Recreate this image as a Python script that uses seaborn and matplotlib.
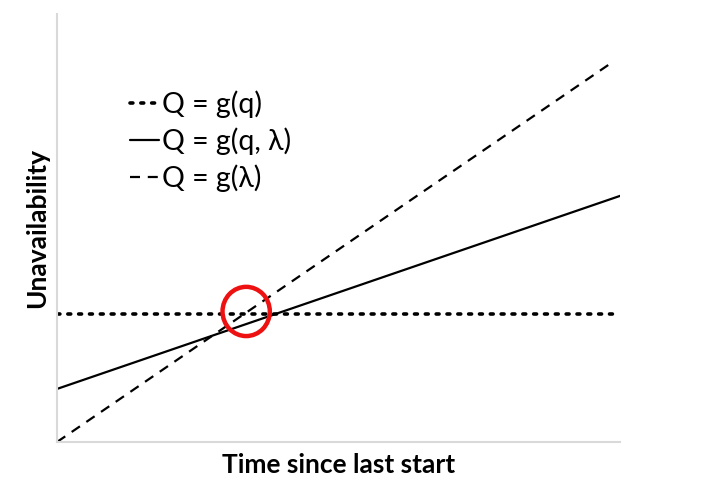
import matplotlib
matplotlib.use("Agg")
import matplotlib.pyplot as plt
from matplotlib.patches import Ellipse
import numpy as np
import pandas as pd
import seaborn as sns

sns.set_theme(style="white")
plt.rcParams["font.family"] = ["Lato", "DejaVu Sans"]

# Conceptual unavailability models vs. time since last start
time_pts = [0.0, 10.0]
time_dashed = [0.0, 9.86]
q_const = [3.0, 3.0]            # Q = g(q): demand-based, constant
q_mixed = [1.24, 5.75]          # Q = g(q, λ): combined
q_rate = [0.0, 8.87]            # Q = g(λ): standby failure rate
labels = ["Q = g(q)", "Q = g(q, λ)", "Q = g(λ)"]
crossing = (3.36, 3.05)

df = pd.concat([
    pd.DataFrame({"t": time_pts, "Q": q_const, "model": labels[0]}),
    pd.DataFrame({"t": time_pts, "Q": q_mixed, "model": labels[1]}),
    pd.DataFrame({"t": time_dashed, "Q": q_rate, "model": labels[2]}),
])

fig = plt.figure(figsize=(7.04, 4.8), dpi=100)
ax = fig.add_axes([57 / 704, 1 - 442 / 480, 563 / 704, 428 / 480])

styles = {
    labels[0]: dict(linestyle=(0, (0.8, 2.2)), linewidth=2.6, dash_capstyle="round"),
    labels[1]: dict(linestyle="-", linewidth=1.6),
    labels[2]: dict(linestyle=(0, (4.5, 3.5)), linewidth=1.6),
}
for name in labels:
    sub = df[df["model"] == name]
    sns.lineplot(data=sub, x="t", y="Q", ax=ax, color="black", label=name,
                 **styles[name])

ax.add_patch(Ellipse(crossing, width=0.84, height=1.15, fill=False,
                     edgecolor="#ee1111", linewidth=3.2, zorder=5))

ax.set_xlim(0, 10)
ax.set_ylim(0, 10)
ax.set_xticks([])
ax.set_yticks([])
for side in ["top", "right"]:
    ax.spines[side].set_visible(False)
for side in ["left", "bottom"]:
    ax.spines[side].set_color("#d9d9d9")
    ax.spines[side].set_linewidth(1.5)

ax.set_xlabel("Time since last start", fontsize=19, fontweight="bold",
              color="black", labelpad=8)
ax.set_ylabel("Unavailability", fontsize=19, fontweight="bold",
              color="black", labelpad=6)

leg = ax.legend(loc="upper left", bbox_to_anchor=(0.13, 0.822), frameon=False,
                fontsize=20.5, handlelength=1.0, handletextpad=0.12,
                labelspacing=0.33, borderaxespad=0, borderpad=0,
                labelcolor="black")

fig.savefig("out.png", dpi=100, facecolor="white")
